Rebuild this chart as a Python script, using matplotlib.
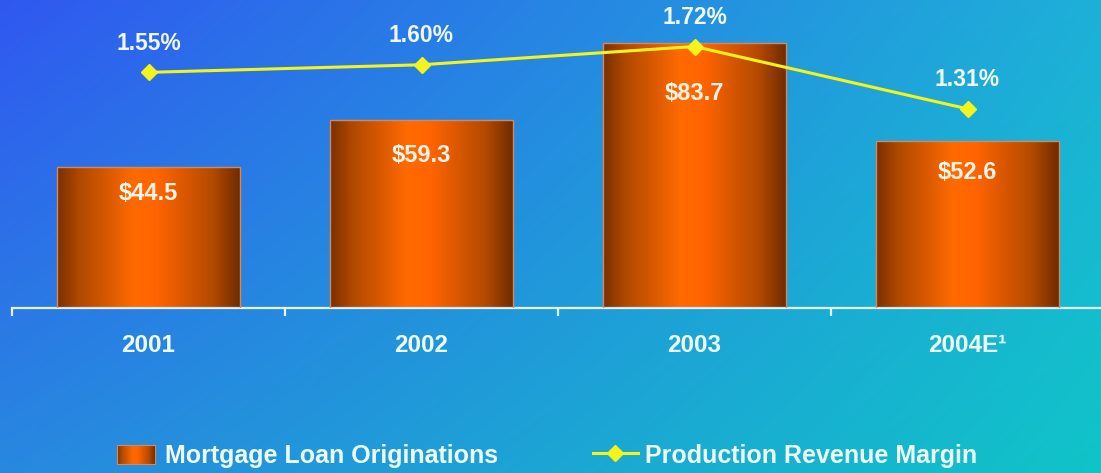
import numpy as np
import matplotlib
matplotlib.use('Agg')
import matplotlib.pyplot as plt
from matplotlib.colors import LinearSegmentedColormap
from matplotlib.lines import Line2D

# data
years = ['2001', '2002', '2003', '2004E\u00b9']
originations = [44.5, 59.3, 83.7, 52.6]        # $ billions
margin = [1.55, 1.60, 1.72, 1.31]               # percent

plt.rcParams['font.family'] = ['Liberation Sans', 'DejaVu Sans']
plt.rcParams['font.weight'] = 'bold'

W, H = 1101, 473
fig = plt.figure(figsize=(W / 100, H / 100), dpi=100)

# background gradient (four corners, bilinear)
bg = fig.add_axes([0, 0, 1, 1], zorder=-10)
tl = np.array([48, 88, 240]) / 255
tr = np.array([30, 176, 216]) / 255
bl = np.array([40, 136, 224]) / 255
br = np.array([16, 196, 200]) / 255
u = np.linspace(0, 1, 200)[None, :, None]
v = np.linspace(0, 1, 100)[:, None, None]
img = (1 - v) * ((1 - u) * tl + u * tr) + v * ((1 - u) * bl + u * br)
bg.imshow(img, aspect='auto', extent=[0, 1, 0, 1], interpolation='bilinear')
bg.axis('off')

# cylinder shading for the bars
bar_cmap = LinearSegmentedColormap.from_list('cyl', [
    (0.0, '#7a3000'), (0.12, '#b04800'), (0.42, '#ff6a00'),
    (0.55, '#ff6400'), (0.85, '#b44a00'), (1.0, '#702c00')])
shade = np.linspace(0, 1, 256)[None, :]

ax = fig.add_axes([12 / W, (H - 308) / H, 1092 / W, 308 / H])
ax.patch.set_alpha(0)
x = np.arange(len(years))
width = 0.667
bars = ax.bar(x, originations, width, color='none', edgecolor='#d8875a', linewidth=1.0, zorder=3)
for rect, val in zip(bars, originations):
    x0 = rect.get_x()
    im = ax.imshow(shade, cmap=bar_cmap, aspect='auto', interpolation='bilinear',
                   extent=[x0, x0 + rect.get_width(), 0, val], zorder=2)
    im.set_clip_path(rect)
    ax.text(rect.get_x() + rect.get_width() / 2, val * 0.81, '$%.1f' % val,
            ha='center', va='center', color='#fff4e6', fontsize=17, fontweight='bold', zorder=5)

ax.set_xlim(-0.5, 3.5)
ax.set_ylim(0, 97.2)
for s in ['top', 'left', 'right']:
    ax.spines[s].set_visible(False)
ax.spines['bottom'].set_color('#e4f4fa')
ax.spines['bottom'].set_linewidth(1.6)
ax.set_yticks([])
ax.set_xticks(x)
ax.set_xticklabels(years)
ax.tick_params(axis='x', which='major', length=0, pad=19, labelsize=17.5, labelcolor='#eefcf8')
ax.set_xticks(np.arange(-0.5, 3.0, 1.0), minor=True)
ax.tick_params(axis='x', which='minor', length=6, width=1.6, color='#e4f4fa', direction='out')

ax2 = ax.twinx()
ax2.patch.set_alpha(0)
ax2.plot(x, margin, color='#f4f41c', linewidth=2.2, marker='D', markersize=8,
         markerfacecolor='#f4f41c', markeredgecolor='#f4f41c', zorder=6)
for xi, m in zip(x, margin):
    ax2.annotate('%.2f%%' % m, (xi, m), xytext=(0, 21), textcoords='offset points',
                 ha='center', va='center', color='#f0f8ff', fontsize=16.5,
                 fontweight='bold', annotation_clip=False)
ax2.set_ylim(0, 2.026)
ax2.set_yticks([])
for s in ['top', 'left', 'right', 'bottom']:
    ax2.spines[s].set_visible(False)

# legend, drawn by hand
lax = fig.add_axes([117 / W, (H - 464) / H, 38 / W, 19 / H])
lax.imshow(shade, cmap=bar_cmap, aspect='auto', interpolation='bilinear')
lax.set_xticks([])
lax.set_yticks([])
for s in lax.spines.values():
    s.set_color('#d8875a')
fig.text(165 / W, (H - 456) / H, 'Mortgage Loan Originations', ha='left', va='center',
         color='#eefcf8', fontsize=18, fontweight='bold')
fig.add_artist(Line2D([593 / W, 615 / W, 638 / W], [(H - 453) / H] * 3, transform=fig.transFigure,
                      color='#f4f41c', linewidth=2.2, marker='D', markersize=8, markevery=[1]))
fig.text(645 / W, (H - 456) / H, 'Production Revenue Margin', ha='left', va='center',
         color='#eefcf8', fontsize=18, fontweight='bold')

fig.savefig('out.png', dpi=100)
